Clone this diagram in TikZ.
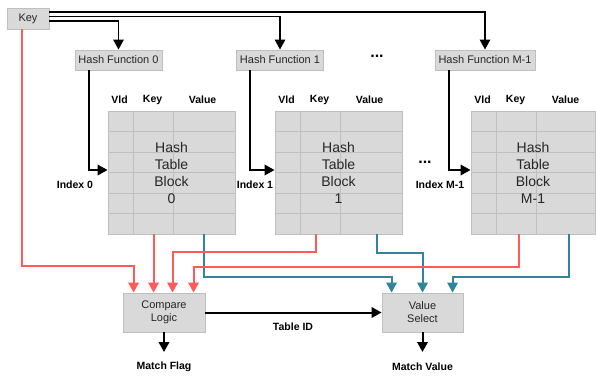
\documentclass[tikz,border=0pt]{standalone}
\usepackage{fontspec}
\setmainfont{Liberation Sans}
\usetikzlibrary{arrows.meta}

\definecolor{boxfill}{HTML}{D9D9D9}
\definecolor{boxline}{HTML}{BFBFBF}
\definecolor{boxtext}{HTML}{262626}
\definecolor{keyred}{HTML}{FF5B5B}
\definecolor{valteal}{HTML}{31849B}

\tikzset{
  box/.style={draw=boxline, fill=boxfill, line width=0.9pt, text=boxtext,
    font=\fontsize{11}{13}\selectfont, inner xsep=3.5pt, minimum height=20pt},
  gridline/.style={draw=boxline, line width=0.9pt},
  tblock/.style={box, minimum width=127pt, minimum height=123pt, align=center,
    font=\fontsize{14}{17}\selectfont,
    path picture={
      \foreach \r in {1,...,5}
        \draw[gridline] ([yshift=-\r*20.5pt]path picture bounding box.north west)
          -- ([yshift=-\r*20.5pt]path picture bounding box.north east);
      \draw[gridline] ([xshift=25pt]path picture bounding box.north west)
        -- ([xshift=25pt]path picture bounding box.south west);
      \draw[gridline] ([xshift=65pt]path picture bounding box.north west)
        -- ([xshift=65pt]path picture bounding box.south west);
    }},
  lbl/.style={font=\fontsize{10.5}{12}\selectfont\bfseries, inner sep=1pt},
  ellip/.style={font=\fontsize{16}{16}\selectfont\bfseries, inner sep=0pt},
  bus/.style={line width=2pt, -{Triangle[length=10pt,width=10.5pt]}},
  fanout/.style={bus, line width=1.5pt},
  keyline/.style={bus, draw=keyred},
  valline/.style={bus, draw=valteal}
}

\begin{document}
\begin{tikzpicture}[x=1pt, y=-1pt]
  \useasboundingbox (0,0) rectangle (596,378);

  % key and hash functions
  \node[box, minimum width=42pt, minimum height=21pt] (key) at (28,18.5) {Key};
  \node[box] (hf0) at (118.5,60) {Hash Function 0};
  \node[box] (hf1) at (280,60) {Hash Function 1};
  \node[box] (hfm) at (485,60) {Hash Function M-1};
  \node[ellip] (dotsa) at (377,56) {...};

  % hash table blocks
  \node[tblock] (blk0) at (171.5,172.5) {Hash\\Table\\Block\\0};
  \node[tblock] (blk1) at (338.5,172.5) {Hash\\Table\\Block\\1};
  \node[tblock, minimum width=124pt] (blkm) at (533,172.5) {Hash\\Table\\Block\\M-1};
  \node[ellip] (dotsb) at (425,162) {...};

  % column headers
  \foreach \b in {blk0,blk1,blkm} {
    \node[lbl] (\b-vld) at ([xshift=12pt,yshift=11pt]\b.north west) {Vld};
    \node[lbl] (\b-key) at ([xshift=45pt,yshift=11pt]\b.north west) {Key};
    \node[lbl] (\b-val) at ([xshift=95pt,yshift=11pt]\b.north west) {Value};
  }

  % index labels
  \node[lbl] (idx0) at (75,185) {Index 0};
  \node[lbl] (idx1) at (255,185) {Index 1};
  \node[lbl] (idxm) at (440,185) {Index M-1};

  % key to hash functions
  \draw[fanout] ([yshift=6.5pt]key.east) -| (hfm.north);
  \draw[fanout] ([yshift=2pt]key.east) -| (hf1.north);
  \draw[fanout] ([yshift=-2.5pt]key.east) -| (hf0.north);

  % hash functions to blocks
  \draw[bus] ([xshift=14pt]hf0.south west) |- ([yshift=2.5pt]blk0.west);
  \draw[bus] ([xshift=14pt]hf1.south west) |- ([yshift=2.5pt]blk1.west);
  \draw[bus] ([xshift=14pt]hfm.south west) |- ([yshift=2.5pt]blkm.west);

  % compare and select
  \node[box, minimum width=82pt, minimum height=39pt, align=center] (cmp) at (164,312.5) {Compare\\Logic};
  \node[box, minimum width=81pt, minimum height=39pt, align=center] (sel) at (422.5,312.5) {Value\\Select};

  % values to select
  \draw[valline] ([xshift=96pt]blk0.south west) -- ++(0,43) -| ([xshift=10pt]sel.north west);
  \draw[valline] ([xshift=102pt]blk1.south west) -- ++(0,19) -| ([xshift=41pt]sel.north west);
  \draw[valline] ([xshift=98pt]blkm.south west) -- ++(0,43) -| ([xshift=71pt]sel.north west);

  % keys to compare
  \draw[keyline] ([xshift=-6pt]key.south) -- ++(0,237) -| ([xshift=11pt]cmp.north west);
  \draw[keyline] ([xshift=46pt]blk0.south west) -- ([xshift=31pt]cmp.north west);
  \draw[keyline] ([xshift=41pt]blk1.south west) -- ++(0,18) -| ([xshift=50pt]cmp.north west);
  \draw[keyline] ([xshift=48pt]blkm.south west) -- ++(0,33) -| ([xshift=71pt]cmp.north west);

  % table id and outputs
  \draw[bus] (cmp.east) -- (sel.west);
  \node[lbl] (tid) at (293,327) {Table ID};
  \coordinate (flagtip) at (164,352);
  \coordinate (valtip) at (422.5,352);
  \draw[bus] (cmp.south) -- (flagtip);
  \draw[bus] (sel.south) -- (valtip);
  \node[lbl] (flag) at (164,367) {Match Flag};
  \node[lbl] (mval) at (422.5,367) {Match Value};
\end{tikzpicture}
\end{document}
